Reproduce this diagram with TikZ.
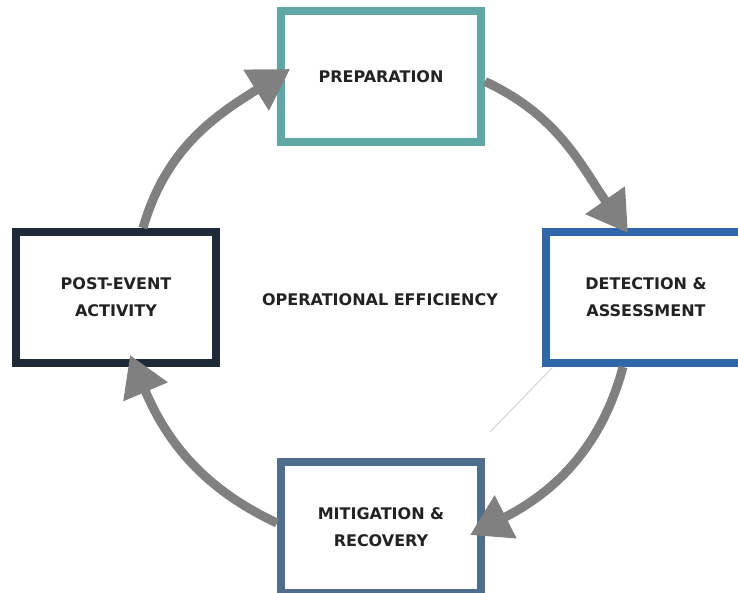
\documentclass[tikz,border=0pt]{standalone}
\usepackage{fontspec}
\setmainfont{DejaVu Sans}
\usetikzlibrary{arrows.meta}

\definecolor{prepcol}{HTML}{5FA8A5}
\definecolor{detcol}{HTML}{2F68A8}
\definecolor{mitcol}{HTML}{4F6E8E}
\definecolor{postcol}{HTML}{1F2A38}
\definecolor{cyclegray}{HTML}{808080}
\definecolor{labeltext}{HTML}{222222}

\begin{document}
\begin{tikzpicture}[x=1pt,y=1pt,
		phasebox/.style={rectangle,draw,line width=8pt,fill=white,minimum width=200pt,minimum height=131pt,
			inner sep=0pt,align=center,text=labeltext,font=\fontsize{16}{27}\selectfont\bfseries},
		cyclearrow/.style={draw=cyclegray,line width=9pt,-{Triangle[length=40pt,width=46pt]}}]
		\useasboundingbox (0,0) rectangle (738,592);
%		\draw[help lines,step=50] (0,0) grid (738,592);
		\path (381,515.5) coordinate (prep_c);
		\path (646,294.5) coordinate (det_c);
		\path (381,64.5) coordinate (mit_c);
		\path (116,294.5) coordinate (post_c);
		\path (380,292) coordinate (opeff_c);

		% the four phases
		\node[phasebox,draw=prepcol] (prep) at (prep_c) {PREPARATION};
		\node[phasebox,draw=detcol] (det) at (det_c) {DETECTION \&\\ASSESSMENT};
		\node[phasebox,draw=mitcol] (mit) at (mit_c) {MITIGATION \&\\RECOVERY};
		\node[phasebox,draw=postcol] (post) at (post_c) {POST-EVENT\\ACTIVITY};
		\node[text=labeltext,font=\fontsize{16}{27}\selectfont\bfseries] (opeff) at (opeff_c) {OPERATIONAL EFFICIENCY};

		% the cycle, clockwise
		\draw[cyclearrow] ([xshift=27pt]post.north) to[out=74,in=212] ([xshift=13pt,yshift=7.5pt]prep.west);
		\draw[cyclearrow] ([yshift=-5pt]prep.east) to[out=-25,in=125] ([xshift=-18pt,yshift=-5pt]det.north);
		\draw[cyclearrow] ([xshift=-23pt]det.south) to[out=-105,in=27] ([xshift=-15pt,yshift=-7.5pt]mit.east);
		\draw[cyclearrow] ([yshift=4.5pt]mit.west) to[out=155,in=-67] ([xshift=14pt,yshift=12pt]post.south);

		\draw[gray!30,line width=1.2pt] (490,160) -- (552,224);
	\end{tikzpicture}
\end{document}
